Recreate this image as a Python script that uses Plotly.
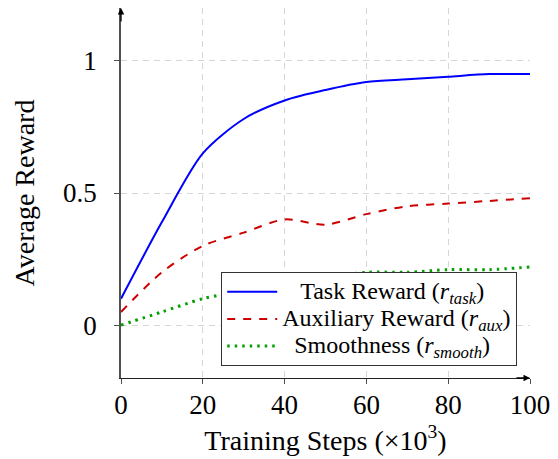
import plotly.graph_objects as go

steps = [0, 10, 20, 30, 40, 50, 60, 70, 80, 90, 100]
task_reward = [0.10, 0.39, 0.65, 0.78, 0.85, 0.89, 0.92, 0.93, 0.94, 0.95, 0.95]
aux_reward = [0.05, 0.20, 0.30, 0.35, 0.40, 0.38, 0.42, 0.45, 0.46, 0.47, 0.48]
smooth_reward = [0.00, 0.05, 0.10, 0.13, 0.16, 0.18, 0.20, 0.20, 0.21, 0.21, 0.22]

x_ticks = [0, 20, 40, 60, 80, 100]
y_ticks = [0, 0.5, 1]
y_tick_labels = ["0", "0.5", "1"]

FONT = "Liberation Serif"
NB = "&nbsp;"


def legend_label(text, pad):
    return '<span style="font-size:24px">' + NB * pad + text + "</span>"


fig = go.Figure()
fig.add_trace(go.Scatter(x=steps, y=task_reward, mode="lines",
                         line=dict(color="#0000ff", width=2, shape="spline", smoothing=0.8),
                         name=legend_label("Task Reward (<i>r</i><sub><i>task</i></sub>)", 3)))
fig.add_trace(go.Scatter(x=steps, y=aux_reward, mode="lines",
                         line=dict(color="#cc0000", width=2, dash="8px,8px", shape="spline", smoothing=0.8),
                         name=legend_label("Auxiliary Reward (<i>r</i><sub><i>aux</i></sub>)", 0)))
fig.add_trace(go.Scatter(x=steps, y=smooth_reward, mode="lines",
                         line=dict(color="#00a000", width=3, dash="2.5px,5px", shape="spline", smoothing=0.8),
                         name=legend_label("Smoothness (<i>r</i><sub><i>smooth</i></sub>)", 2)))

axis_color = "#505050"
grid_color = "#d6d6d6"
fig.update_layout(
    width=550, height=451,
    margin=dict(l=113, r=28, t=0, b=81, autoexpand=False),
    paper_bgcolor="white", plot_bgcolor="white",
    font=dict(family=FONT, size=27, color="black"),
    showlegend=True,
    legend=dict(x=0.968, y=0.0324, xanchor="right", yanchor="bottom",
                bgcolor="white", bordercolor="#333333", borderwidth=1.3,
                font=dict(family=FONT, size=18.5), itemwidth=50, tracegroupgap=0),
    xaxis=dict(range=[0, 100], tickvals=x_ticks, showgrid=True, automargin=False,
               gridcolor=grid_color, griddash="6px,5px", gridwidth=1,
               showline=True, linecolor="#222222", linewidth=1.3,
               ticks="outside", ticklen=5, tickcolor=axis_color,
               zeroline=False, ticklabelstandoff=-3,
               title=dict(text="Training Steps (×10<sup>3</sup>)", standoff=11,
                          font=dict(size=28))),
    yaxis=dict(range=[-0.2, 1.2], tickvals=y_ticks, ticktext=y_tick_labels, showgrid=True,
               automargin=False,
               gridcolor=grid_color, griddash="6px,5px", gridwidth=1,
               showline=True, linecolor=axis_color, linewidth=1.6,
               ticks="outside", ticklen=5, tickcolor=axis_color,
               zeroline=False, ticklabelstandoff=12,
               title=dict(text="Average Reward", standoff=20, font=dict(size=28))),
)

fig.add_annotation(x=100, y=-0.2, xref="x", yref="y", ax=-15, ay=0, showarrow=True,
                   arrowhead=2, arrowsize=1, arrowwidth=1.3, arrowcolor="black", text="")
fig.add_annotation(x=0, y=1.2, xref="x", yref="y", ax=0, ay=15, showarrow=True,
                   arrowhead=2, arrowsize=1, arrowwidth=1.3, arrowcolor="black", text="")

fig.write_html("out.html")
